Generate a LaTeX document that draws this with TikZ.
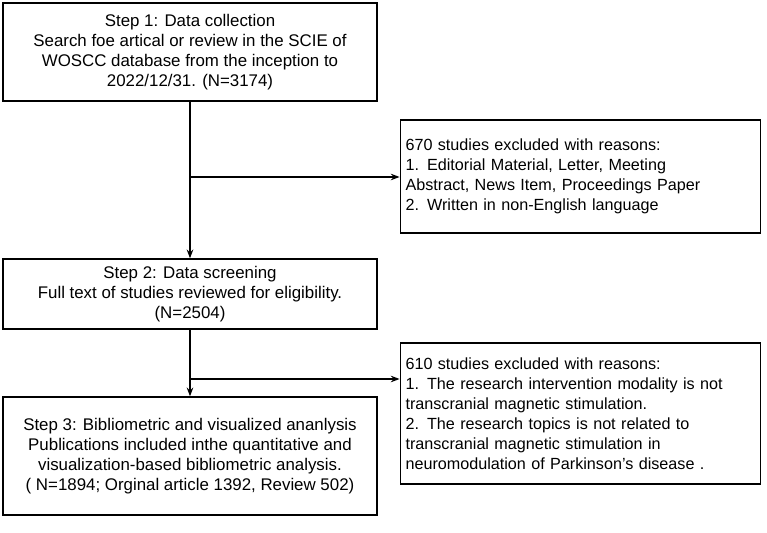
\documentclass[tikz,border=0pt]{standalone}
\usepackage{fontspec}
\setmainfont{Liberation Sans}
\usetikzlibrary{arrows.meta}

\begin{document}
\begin{tikzpicture}[x=0.02cm, y=-0.02cm]
    \tikzstyle{step box} = [draw=black, thick, rectangle, align=center, inner sep=2pt, font=\fontsize{9.6}{11.4}\selectfont]
    \tikzstyle{exclude box} = [step box, align=left, inner xsep=3pt, font=\fontsize{9.2}{11.4}\selectfont]
    \tikzstyle{flow line} = [draw=black, thick]
    \tikzstyle{flow arrow} = [flow line, -{Stealth[length=5pt]}]
\useasboundingbox (0,0) rectangle (767,533);
\node[step box, minimum width=7.48cm, minimum height=1.96cm] (collect) at (190, 52) {Step 1: Data collection\\Search foe artical or review in the SCIE of\\WOSCC database from the inception to\\2022/12/31. (N=3174)};
\node[exclude box, text width=7.0cm, minimum height=2.26cm] (excl1) at (580.5, 176.5) {670 studies excluded with reasons:\\1. Editorial Material, Letter, Meeting\\Abstract, News Item, Proceedings Paper\\2. Written in non-English language};
\node[step box, minimum width=7.48cm, minimum height=1.4cm] (screen) at (190, 294) {Step 2: Data screening\\Full text of studies reviewed for eligibility.\\(N=2504)};
\node[exclude box, text width=7.0cm, minimum height=2.82cm] (excl2) at (580.5, 413.5) {610 studies excluded with reasons:\\1. The research intervention modality is not\\transcranial magnetic stimulation.\\2. The research topics is not related to\\transcranial magnetic stimulation in\\neuromodulation of Parkinson's disease .};
\node[step box, minimum width=7.48cm, minimum height=2.36cm] (analysis) at (190, 456) {Step 3: Bibliometric and visualized ananlysis\\Publications included inthe quantitative and\\visualization-based bibliometric analysis.\\( N=1894; Orginal article 1392, Review 502)};
\coordinate (split1) at (190, 177);
\coordinate (split2) at (190, 379);
\draw[flow arrow] (collect) -- (screen);
\draw[flow arrow] (split1) -- (excl1.west |- split1);
\draw[flow arrow] (screen) -- (analysis);
\draw[flow arrow] (split2) -- (excl2.west |- split2);
\end{tikzpicture}
\end{document}
